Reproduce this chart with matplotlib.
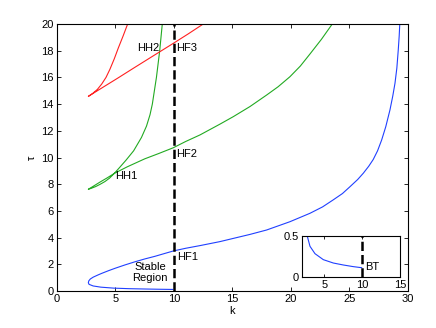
import matplotlib
matplotlib.use("Agg")
import matplotlib.pyplot as plt

plt.rcParams['font.family'] = ['Liberation Sans', 'DejaVu Sans']

# blue Hopf curve (lower branch from BT point, fold, upper branch)
blue_k = [9.9, 8.8, 7.49, 6.17, 4.85, 3.75, 3.09, 2.74, 2.68, 2.72, 2.85, 3.1, 3.5,
          3.82, 4.4, 4.96, 5.8, 6.67, 7.5, 8.38, 9.2, 9.95, 11.0, 12.22, 13.93,
          15.07, 16.5, 17.92, 19.91, 21.62, 22.7, 23.6, 24.4, 25.04, 25.7, 26.18,
          26.65, 27.03, 27.4, 27.75, 28.1, 28.46, 28.7, 28.89, 29.05, 29.17, 29.25, 29.3]
blue_tau = [0.117, 0.13, 0.15, 0.174, 0.215, 0.288, 0.378, 0.5, 0.62, 0.76, 0.9, 1.04, 1.2,
            1.32, 1.52, 1.7, 1.95, 2.19, 2.4, 2.6, 2.81, 3.0, 3.2, 3.4, 3.7,
            3.94, 4.24, 4.57, 5.19, 5.82, 6.3, 6.82, 7.3, 7.81, 8.35, 8.82,
            9.35, 9.85, 10.5, 11.31, 12.3, 13.56, 14.6, 15.56, 16.7, 18.05, 19.1, 20.0]

# green curve (steep branch down to fold, then shallow branch)
green_k = [9.0, 8.78, 8.5, 8.15, 7.95, 7.65, 7.22, 6.55, 5.9, 5.3, 4.9, 4.5, 4.1, 3.68, 3.3, 2.95, 2.68,
           3.2, 3.68, 4.3, 4.9, 6.0, 7.5, 8.7, 9.94, 11.0, 12.22, 13.93, 15.07, 16.5,
           17.92, 18.9, 19.91, 20.8, 21.62, 22.6, 23.53]
green_tau = [20.0, 18.0, 16.0, 14.0, 13.2, 12.35, 11.5, 10.5, 9.8, 9.2, 8.81, 8.46, 8.2, 7.99, 7.82, 7.7, 7.62,
             7.9, 8.16, 8.48, 8.81, 9.3, 9.9, 10.3, 10.73, 11.2, 11.69, 12.5, 13.06, 13.82,
             14.68, 15.3, 16.05, 16.85, 17.75, 18.85, 20.0]

# red curve
red_k = [6.04, 5.65, 5.24, 4.9, 4.52, 4.19, 3.82, 3.45, 3.05, 2.68,
         4.0, 5.2, 6.52, 8.2, 9.94, 11.2, 12.5]
red_tau = [20.0, 19.1, 18.2, 17.4, 16.6, 16.0, 15.5, 15.1, 14.8, 14.58,
           15.3, 15.95, 16.68, 17.6, 18.55, 19.25, 20.0]

# inset: zoom of the lower blue branch
inset_k = [2.74, 3.09, 3.75, 4.85, 6.17, 7.49, 8.8, 9.9]
inset_tau = [0.5, 0.378, 0.288, 0.215, 0.174, 0.15, 0.13, 0.117]

k_crit = 10

fig = plt.figure(figsize=(4.36, 3.28), dpi=100)
ax = fig.add_axes([0.1307, 0.1128, 0.805, 0.814])

ax.plot(blue_k, blue_tau, color='#2040ff', lw=0.8)
ax.plot(green_k, green_tau, color='#22aa22', lw=0.8)
ax.plot(red_k, red_tau, color='#ff2020', lw=0.8)
ax.plot([k_crit, k_crit], [0, 20], 'k--', lw=1.8)

ax.set_xlim(0, 30)
ax.set_ylim(0, 20)
ax.set_xticks(range(0, 31, 5))
ax.set_yticks(range(0, 21, 2))
ax.tick_params(direction='in', top=True, right=True, labelsize=8, length=3, width=0.6, pad=2.5)
ax.set_xlabel('k', fontsize=8, labelpad=1)
ax.set_ylabel('τ', fontsize=8, labelpad=3)
for s in ax.spines.values():
    s.set_linewidth(0.8)

fs = 8
ax.text(8.74, 18.24, 'HH2', fontsize=fs, ha='right', va='center')
ax.text(10.2, 18.24, 'HF3', fontsize=fs, ha='left', va='center')
ax.text(10.2, 10.3, 'HF2', fontsize=fs, ha='left', va='center')
ax.text(4.96, 8.59, 'HH1', fontsize=fs, ha='left', va='center')
ax.text(10.3, 2.55, 'HF1', fontsize=fs, ha='left', va='center')
ax.text(7.95, 1.37, 'Stable\nRegion', fontsize=fs, ha='center', va='center', linespacing=1.1)

ins = fig.add_axes([0.692, 0.1546, 0.2261, 0.125])
ins.plot(inset_k, inset_tau, color='#2040ff', lw=0.8)
ins.plot([k_crit, k_crit], [0, 0.5], 'k--', lw=1.8)
ins.set_xlim(2, 15)
ins.set_ylim(0, 0.5)
ins.set_xticks([5, 10, 15])
ins.set_yticks([0, 0.5])
ins.set_yticklabels(['0', '0.5'])
ins.tick_params(direction='in', top=True, right=True, labelsize=8, length=2.5, width=0.6, pad=2)
for s in ins.spines.values():
    s.set_linewidth(0.8)
ins.text(10.3, 0.126, 'BT', fontsize=fs, ha='left', va='center')

fig.savefig('out.png', dpi=100)
